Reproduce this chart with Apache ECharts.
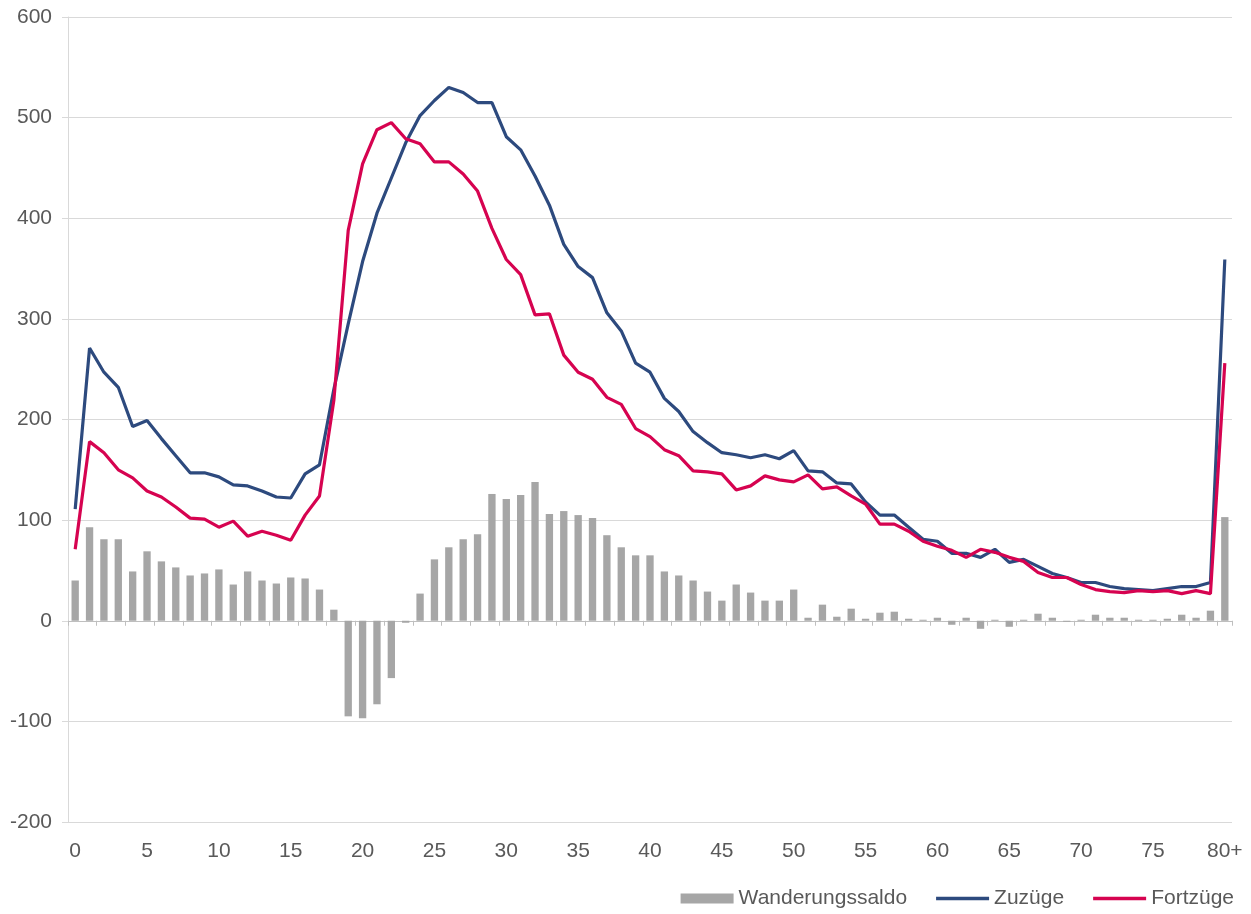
<!DOCTYPE html>
<html>
<head>
<meta charset="utf-8">
<script src="https://cdn.jsdelivr.net/npm/echarts@6/dist/echarts.min.js"></script>
<style>
  html, body { margin: 0; padding: 0; background: #fff; }
  #chart { width: 1251px; height: 914px; }
</style>
</head>
<body>
<div id="chart"></div>
<script>
// Altersjahre 0 .. 80+
var ages = [];
for (var i = 0; i < 80; i++) ages.push(String(i));
ages.push("80+");

var saldo = [40, 93, 81, 81, 49, 69, 59, 53, 45, 47, 51, 36, 49, 40, 37, 43, 42, 31, 11, -95,
  -97, -83, -57, -2, 27, 61, 73, 81, 86, 126, 121, 125, 138, 106, 109, 105, 102, 85, 73, 65,
  65, 49, 45, 40, 29, 20, 36, 28, 20, 20, 31, 3, 16, 4, 12, 2, 8, 9, 2, 1,
  3, -4, 3, -8, 1, -6, 1, 7, 3, -1, 1, 6, 3, 3, 1, 1, 2, 6, 3, 10,
  103];

var zuzuege = [111, 271, 247, 232, 193, 199, 181, 164, 147, 147, 143, 135, 134, 129, 123, 122, 146, 155, 230, 295,
  357, 405, 440, 475, 502, 517, 530, 525, 515, 515, 481, 468, 442, 413, 374, 352, 341, 306, 288, 256,
  247, 221, 208, 188, 177, 167, 165, 162, 165, 161, 169, 149, 148, 137, 136, 118, 105, 105, 93, 81,
  79, 67, 67, 63, 71, 58, 61, 54, 47, 43, 38, 38, 34, 32, 31, 30, 32, 34, 34, 38,
  359];

var fortzuege = [71, 178, 167, 150, 142, 129, 123, 113, 102, 101, 93, 99, 84, 89, 85, 80, 105, 124, 219, 388,
  454, 488, 495, 479, 474, 456, 456, 444, 427, 390, 359, 344, 304, 305, 264, 247, 240, 222, 215, 191,
  183, 170, 164, 149, 148, 146, 130, 134, 144, 140, 138, 145, 131, 133, 124, 116, 96, 96, 89, 79,
  74, 70, 63, 71, 68, 63, 59, 48, 43, 43, 36, 31, 29, 28, 30, 29, 30, 27, 30, 27,
  256];

var yTicks = { min: -200, max: 600, interval: 100 };

var textColor = "#595959";
var fontFam = "'Liberation Sans', Arial, sans-serif";
// flacher Balken als Legenden-Symbol fuer die Linien
var lineIcon = "path://M0,0L54,0L54,3.5L0,3.5Z";

var myChart = echarts.init(document.getElementById("chart"));

var option = {
  animation: false,
  textStyle: { fontFamily: fontFam },
  grid: { left: 68, right: 19, top: 17, bottom: 92, containLabel: false },
  legend: {
    right: 12,
    top: 883,
    itemWidth: 53,
    itemHeight: 10,
    itemGap: 29,
    textStyle: { color: textColor, fontSize: 21, fontFamily: fontFam },
    data: [
      { name: "Wanderungssaldo", icon: "rect" },
      { name: "Zuzüge", icon: lineIcon },
      { name: "Fortzüge", icon: lineIcon },
    ],
  },
  xAxis: [
    {
      // Achse bei 0 mit Strichen
      type: "category",
      data: ages,
      position: "bottom",
      axisLine: { onZero: true, lineStyle: { color: "#BFBFBF", width: 1 } },
      axisTick: { show: true, length: 5, lineStyle: { color: "#BFBFBF" } },
      axisLabel: { show: false },
      splitLine: { show: false },
    },
    {
      // Beschriftung unten
      type: "category",
      data: ages,
      position: "bottom",
      axisLine: { show: false, onZero: false },
      axisTick: { show: false },
      axisLabel: {
        interval: 4,
        margin: 19,
        color: textColor,
        fontSize: 21,
        fontFamily: fontFam,
      },
      splitLine: { show: false },
    },
  ],
  yAxis: {
    type: "value",
    min: yTicks.min,
    max: yTicks.max,
    interval: yTicks.interval,
    axisLine: { show: true, lineStyle: { color: "#D9D9D9" } },
    axisTick: { show: true, length: 6, lineStyle: { color: "#D9D9D9" } },
    axisLabel: { margin: 16, color: textColor, fontSize: 21, fontFamily: fontFam },
    splitLine: { lineStyle: { color: "#D9D9D9", width: 1 } },
  },
  series: [
    {
      name: "Wanderungssaldo",
      type: "bar",
      xAxisIndex: 0,
      data: saldo,
      barWidth: "51%",
      itemStyle: { color: "#A6A6A6" },
    },
    {
      name: "Zuzüge",
      type: "line",
      xAxisIndex: 0,
      data: zuzuege,
      symbol: "none",
      lineStyle: { color: "#2D4A7E", width: 3.2 },
      itemStyle: { color: "#2D4A7E" },
    },
    {
      name: "Fortzüge",
      type: "line",
      xAxisIndex: 0,
      data: fortzuege,
      symbol: "none",
      lineStyle: { color: "#D60350", width: 3.2 },
      itemStyle: { color: "#D60350" },
    },
  ],
};

option && myChart.setOption(option);
</script>
</body>
</html>
